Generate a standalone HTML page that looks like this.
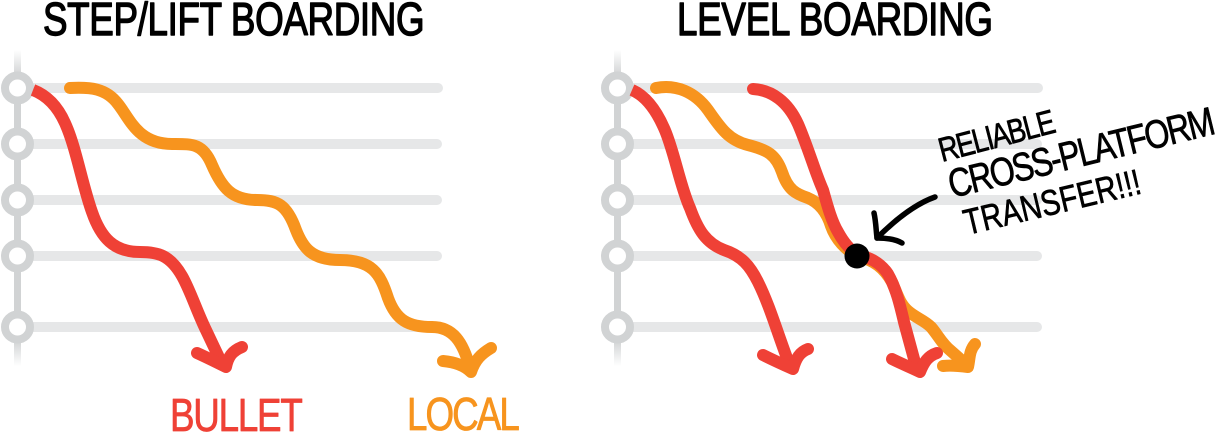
<!DOCTYPE html>
<html>
<head>
<meta charset="utf-8">
<style>
html,body{margin:0;padding:0;background:#fff;width:1220px;height:434px;overflow:hidden}
svg{display:block}
text{font-family:"Liberation Sans",sans-serif;font-weight:400;stroke-linejoin:round}
</style>
</head>
<body>
<svg width="1220" height="434" viewBox="0 0 1220 434" xmlns="http://www.w3.org/2000/svg">
<defs>
<linearGradient id="railL" x1="0" y1="50" x2="0" y2="366" gradientUnits="userSpaceOnUse">
<stop offset="0" stop-color="#d1d3d4" stop-opacity="0"/>
<stop offset="0.08" stop-color="#d1d3d4"/>
<stop offset="0.92" stop-color="#d1d3d4"/>
<stop offset="1" stop-color="#d1d3d4" stop-opacity="0"/>
</linearGradient>
</defs>

<!-- left panel -->
<g stroke="#e6e7e8" stroke-width="10" stroke-linecap="round" fill="none">
<path d="M17 88H438M17 144H437M17 200H437M17 256H437M17 327H430"/>
</g>
<rect x="14" y="50" width="7" height="316" fill="url(#railL)"/>
<g fill="#fff" stroke="#d1d3d4" stroke-width="8">
<circle cx="17.5" cy="88" r="12.5"/><circle cx="17.5" cy="144" r="12.5"/><circle cx="17.5" cy="200" r="12.5"/><circle cx="17.5" cy="256" r="12.5"/><circle cx="17.5" cy="327" r="12.5"/>
</g>
<g fill="none" stroke-linecap="round" stroke-linejoin="round" stroke-width="12">
<path stroke="#ef4136" stroke-linecap="butt" d="M33 90C46 95 57 105 65 123C76 147 82 184 92 212C101 238 114 252 140 252C158 252 170 255 182 276C190 290 196 309 205 328L223 366"/>
<path stroke="#ef4136" d="M197 353C208 358 218 363 226 367C228 357 232 351 242 347"/>
<path stroke="#f7941e" d="M70 88C90 87 106 88 118 104C130 119 138 144 172 144C192 144 203 143 212 165C222 188 232 200 257 200C278 200 287 205 296 230C303 248 312 260 340 260C372 260 380 273 388 298C396 320 408 327 432 327C453 327 463 342 470 368"/>
<path stroke="#f7941e" d="M443 361C454 362 464 365 471 372C475 360 481 354 491 348"/>
</g>

<!-- right panel -->
<g stroke="#e6e7e8" stroke-width="10" stroke-linecap="round" fill="none">
<path d="M617 88H1038M617 144H1037M617 200H1037M617 256H1037M617 327H1037"/>
</g>
<rect x="614" y="50" width="7" height="316" fill="url(#railL)"/>
<g fill="#fff" stroke="#d1d3d4" stroke-width="8">
<circle cx="617.5" cy="88" r="12.5"/><circle cx="617.5" cy="144" r="12.5"/><circle cx="617.5" cy="200" r="12.5"/><circle cx="617.5" cy="256" r="12.5"/><circle cx="617.5" cy="327" r="12.5"/>
</g>
<g fill="none" stroke-linecap="round" stroke-linejoin="round" stroke-width="12">
<path stroke="#f7941e" d="M656 88C676 84 695 92 708 110C720 127 728 140 748 145C768 150 776 155 782 172C788 190 796 194 808 198C820 203 827 213 831 226C836 240 846 250 857 256C874 260 884 268 892 282C898 296 900 304 908 311C916 318 924 320 931 327C938 335 942 344 951 351L968 366"/>
<path stroke="#f7941e" d="M943 366C952 365 960 366 968 367C970 358 969 351 975 344"/>
<path stroke="#ef4136" stroke-linecap="butt" d="M632 90C646 96 656 110 664 128C674 150 680 186 690 208C698 230 706 243 724 250C742 256 750 266 758 282C770 306 778 335 790 366"/>
<path stroke="#ef4136" d="M763 355C773 360 784 365 793 369C796 358 800 352 808 349"/>
<path stroke="#ef4136" d="M753 89C772 90 788 102 798 124C808 147 816 175 823 190C828 208 832 222 838 232C844 243 850 250 857 254C870 258 880 262 888 274C896 288 900 305 904 322L917 370"/>
<path stroke="#ef4136" d="M892 359C902 364 912 368 920 372C924 362 928 356 937 353"/>
</g>
<circle cx="857" cy="256" r="12.5" fill="#000"/>
<g fill="none" stroke="#000" stroke-width="5.5" stroke-linecap="round" stroke-linejoin="round">
<path d="M935 197C918 203 900 215 877 238"/>
<path d="M874 213C876 222 876 230 877 238C886 238 895 239 902 243"/>
</g>

<!-- labels -->
<g fill="#000" stroke="#000" stroke-width="1.4">
<text transform="translate(43 35) scale(.8 1)" font-size="46" textLength="477" lengthAdjust="spacing">STEP/LIFT BOARDING</text>
<text transform="translate(677 35) scale(.8 1)" font-size="46" textLength="395" lengthAdjust="spacing">LEVEL BOARDING</text>
<text transform="translate(942 162) rotate(-14.6) scale(.8 1)" font-size="34" stroke-width="0.7" textLength="149" lengthAdjust="spacing">RELIABLE</text>
<text transform="translate(952 198) rotate(-13.7) scale(.8 1)" font-size="40" stroke-width="0.7" textLength="341" lengthAdjust="spacing">CROSS-PLATFORM</text>
<text transform="translate(967 235) rotate(-13.4) scale(.8 1)" font-size="36" stroke-width="0.7" textLength="226" lengthAdjust="spacing">TRANSFER!!!</text>
</g>
<text transform="translate(170 431) scale(.8 1)" font-size="46" fill="#ef4136" stroke="#ef4136" stroke-width="0.8" textLength="166" lengthAdjust="spacing">BULLET</text>
<text transform="translate(407 430) scale(.8 1)" font-size="46" fill="#f7941e" stroke="#f7941e" stroke-width="0.8" textLength="141" lengthAdjust="spacing">LOCAL</text>
</svg>
</body>
</html>
